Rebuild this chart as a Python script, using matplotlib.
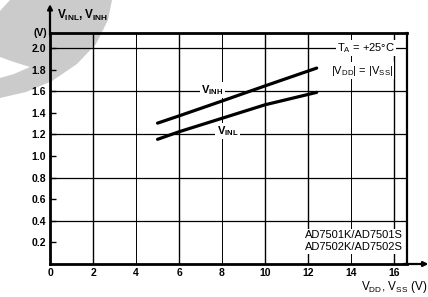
import numpy as np
import matplotlib
matplotlib.use("Agg")
import matplotlib.pyplot as plt
from matplotlib.patches import Polygon

plt.rcParams['font.family'] = ['Liberation Sans', 'DejaVu Sans']
plt.rcParams['mathtext.fontset'] = 'custom'
plt.rcParams['mathtext.rm'] = 'Liberation Sans'
plt.rcParams['mathtext.bf'] = 'Liberation Sans:bold'

# значения
vsupply = [5, 6, 8, 10, 12.4]
vinh = [1.305, 1.372, 1.51, 1.65, 1.815]
vinl = [1.155, 1.225, 1.35, 1.475, 1.59]

x_ticks = [0, 2, 4, 6, 8, 10, 12, 14, 16]
y_ticks = [0.2, 0.4, 0.6, 0.8, 1.0, 1.2, 1.4, 1.6, 1.8, 2.0]
y_labels = ["0.2", "0.4", "0.6", "0.8", "1.0", "1.2", "1.4", "1.6", "1.8", "2.0"]

fig = plt.figure(figsize=(4.28, 2.97), dpi=100)

# серый фрагмент водяного знака слева сверху (в пикселях)
bg = fig.add_axes([0, 0, 1, 1], zorder=0)
bg.set_xlim(0, 428)
bg.set_ylim(297, 0)
bg.axis('off')
mark = [(10, 0), (112, 0), (108, 20), (96, 44), (77, 64), (52, 81),
        (26, 92), (0, 98), (0, 78), (14, 74), (30, 67), (14, 62),
        (0, 57), (0, 11)]
bg.add_patch(Polygon(mark, closed=True, color='#cbcbcb', lw=0))

ax = fig.add_axes([50/428, 33/297, 357/428, 231/297], zorder=1)
ax.set_facecolor('none')
ax.set_xlim(0, 16.6)
ax.set_ylim(0, 2.14)

# сетка
for xv in [2, 6, 10, 12, 16]:
    ax.axvline(xv, color='black', lw=1.0, zorder=1)
for xv in [4, 8, 14]:
    ax.axvline(xv, color='black', lw=0.7, zorder=1)
for yv in [0.4, 0.8, 1.2, 1.6, 2.0]:
    ax.axhline(yv, color='black', lw=0.9, zorder=1)

ax.plot(vsupply, vinh, color='black', lw=2.3, solid_capstyle='round', zorder=3)
ax.plot(vsupply, vinl, color='black', lw=2.3, solid_capstyle='round', zorder=3)

wb = dict(facecolor='white', edgecolor='none', pad=1.0)
ax.text(7.55, 1.61, r"$\mathbf{V_{INH}}$", fontsize=8,
        ha='center', va='center', bbox=wb, zorder=2)
ax.text(8.25, 1.23, r"$\mathbf{V_{INL}}$", fontsize=8,
        ha='center', va='center', bbox=wb, zorder=2)
ax.text(13.35, 2.0, r"T$_{\rm A}$ = +25°C", fontsize=8,
        ha='left', va='center', bbox=wb, zorder=2)
ax.text(13.05, 1.79, r"|V$_{\rm DD}$| = |V$_{\rm SS}$|", fontsize=8,
        ha='left', va='center', bbox=wb, zorder=2)
ax.text(16.4, 0.27, "AD7501K/AD7501S", fontsize=8,
        ha='right', va='center', bbox=wb, zorder=2)
ax.text(16.4, 0.155, "AD7502K/AD7502S", fontsize=8,
        ha='right', va='center', bbox=wb, zorder=2)

ax.set_xticks(x_ticks)
ax.set_xticklabels([str(v) for v in x_ticks])
ax.set_yticks(y_ticks)
ax.set_yticklabels(y_labels)
ax.tick_params(axis='both', direction='in', length=4, width=1.0,
               labelsize=7.5, pad=3)
ax.tick_params(axis='x', length=0, pad=3)
ax.text(-0.12, 2.14, "(V)", fontsize=7.5, fontweight='bold',
        ha='right', va='center')

for lbl in ax.get_xticklabels() + ax.get_yticklabels():
    lbl.set_fontweight('bold')

ax.spines['top'].set_linewidth(2.0)
ax.spines['left'].set_linewidth(2.0)
ax.spines['bottom'].set_linewidth(2.0)
ax.spines['right'].set_linewidth(1.6)

# стрелки осей
ax.annotate('', xy=(0, 1.125), xytext=(0, 0.99), xycoords='axes fraction',
            arrowprops=dict(arrowstyle='-|>', color='black', lw=1.6,
                            mutation_scale=7, shrinkA=0, shrinkB=0),
            annotation_clip=False)
ax.annotate('', xy=(1.06, 0), xytext=(0.99, 0), xycoords='axes fraction',
            arrowprops=dict(arrowstyle='-|>', color='black', lw=1.6,
                            mutation_scale=7, shrinkA=0, shrinkB=0),
            annotation_clip=False)

fig.text(57/428, 1 - 15/297, r"$\mathbf{V_{INL},V_{INH}}$", fontsize=8.5,
         ha='left', va='center')
fig.text(0.999, 1 - 287/297, r"V$_{\rm DD}$, V$_{\rm SS}$ (V)", fontsize=8.5,
         ha='right', va='center')

fig.savefig('out.png', dpi=100)
